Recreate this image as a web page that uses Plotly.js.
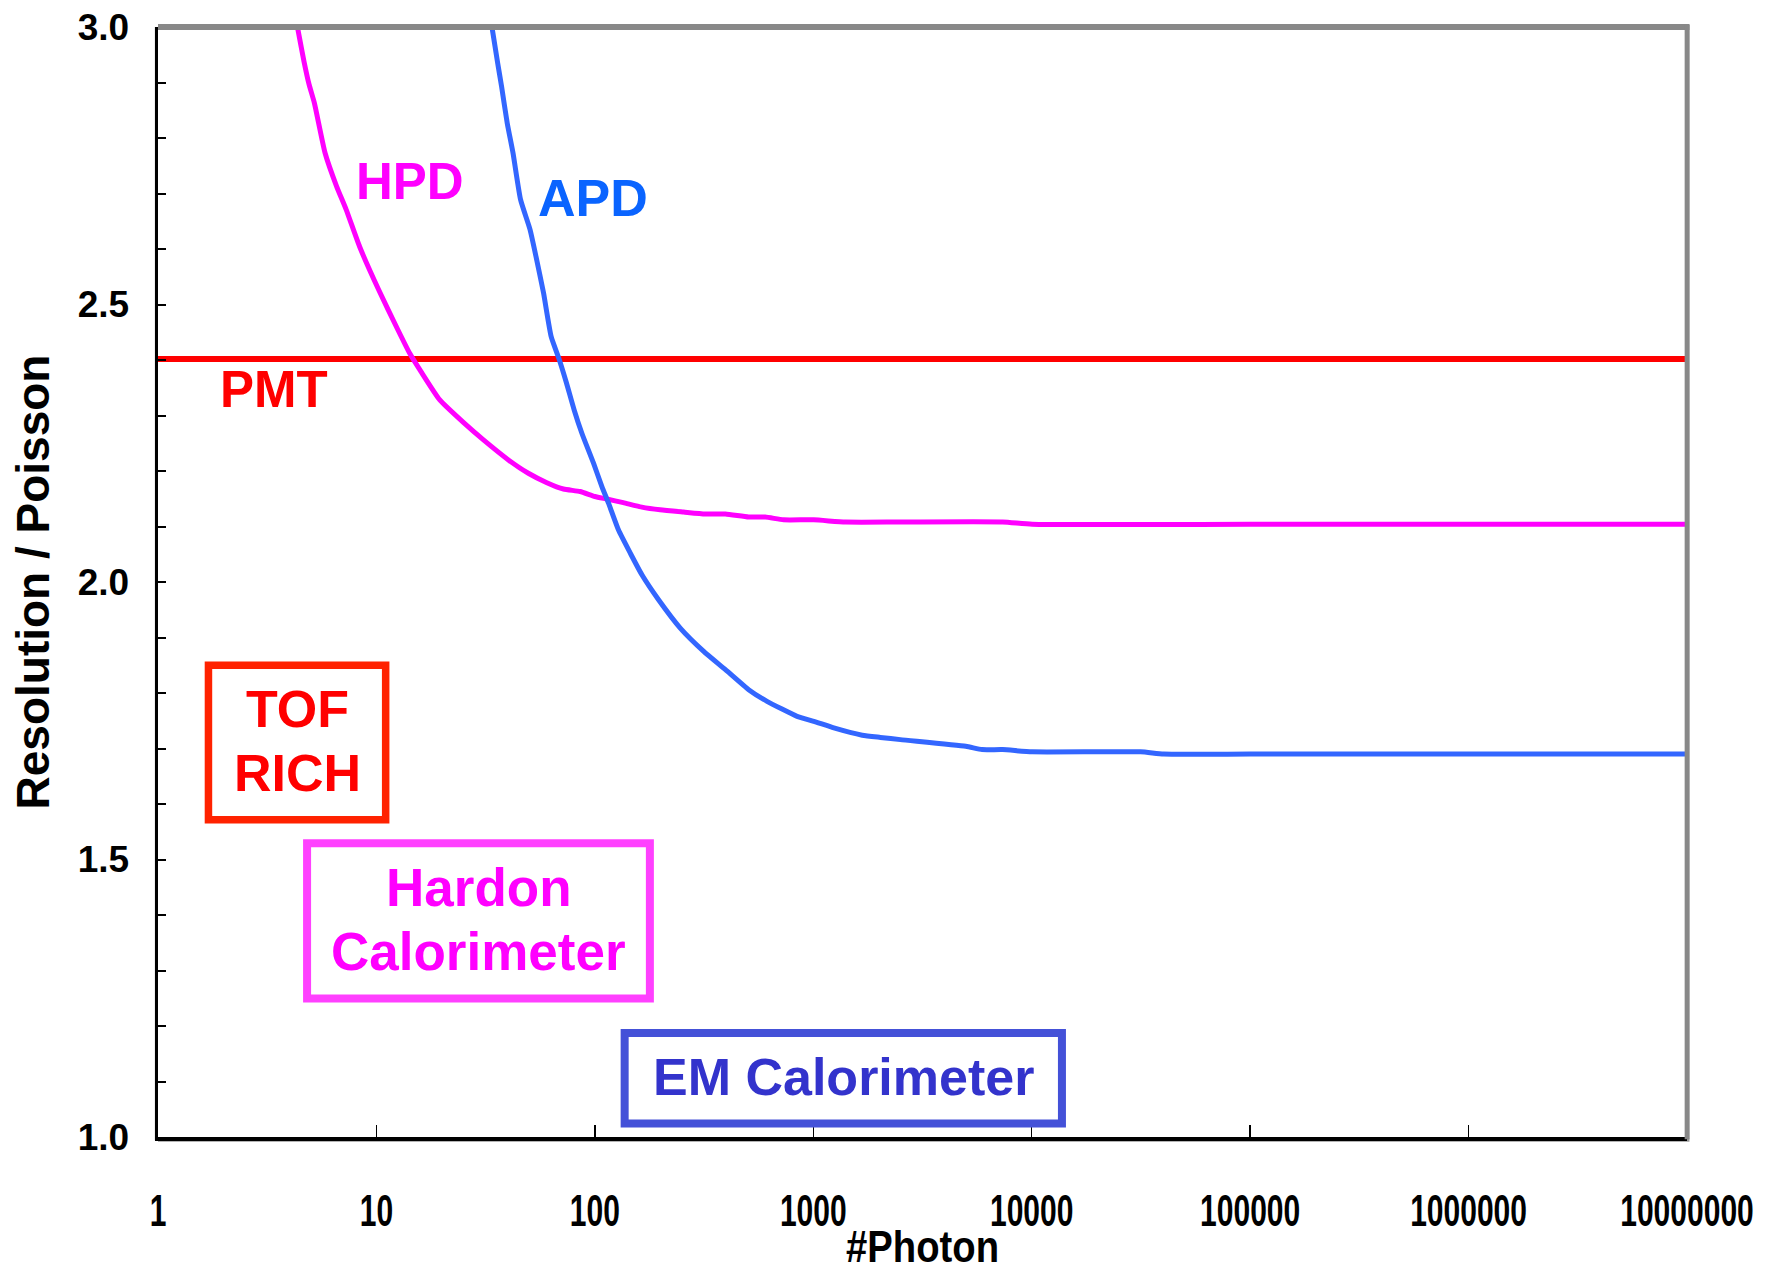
<!DOCTYPE html>
<html>
<head>
<meta charset="utf-8">
<script src="https://cdn.plot.ly/plotly-3.0.1.min.js"></script>
<style>
  html, body { margin: 0; padding: 0; background: #ffffff; }
  #chart { width: 1773px; height: 1264px; }
</style>
</head>
<body>
<div id="chart"></div>
<script>
// ---- Data ----
const xTickVals = [1, 10, 100, 1000, 10000, 100000, 1000000, 10000000];
const xTickText = ["1", "10", "100", "1000", "10000", "100000", "1000000", "10000000"];
const yTickVals = [1.0, 1.5, 2.0, 2.5, 3.0];
const yTickText = ["1.0", "1.5", "2.0", "2.5", "3.0"];

const pmtX = [1, 10000000];
const pmtY = [2.402, 2.402];

const hpdX = [4.35, 4.66, 4.92, 5.20, 5.82, 6.57, 7.27, 8.38, 10.25, 12.55, 14.2, 16.0, 19.5, 25.0, 30.9,
  40.2, 49.6, 60.3, 71.8, 85.6, 100, 113.5, 135, 164, 199, 255, 320, 396, 506, 603, 731, 1004, 1403,
  2506, 7360, 10050, 100000, 1000000, 10000000];
const hpdY = [3.0, 2.938, 2.896, 2.863, 2.773, 2.713, 2.671, 2.604, 2.526, 2.454, 2.412, 2.379, 2.328, 2.2875, 2.256,
  2.220, 2.196, 2.179, 2.1675, 2.163, 2.154, 2.1495, 2.143, 2.135, 2.130, 2.126, 2.1225, 2.1225, 2.117, 2.117, 2.112, 2.112, 2.108,
  2.108, 2.108, 2.104, 2.104, 2.104, 2.104];

const apdX = [33.8, 35.9, 37.4, 39.7, 42.2, 45.7, 50.5, 53.8, 58.2, 63.1, 68.4, 74.2, 80.4, 87.2, 98.6,
  107.7, 115.5, 128.2, 145.3, 164.2, 195.7, 246, 315, 396, 506, 614, 843, 1005, 1242, 1675, 2029, 2506,
  4990, 5930, 7360, 10050, 31500, 40200, 100000, 1000000, 10000000];
const apdY = [3.0, 2.935, 2.893, 2.827, 2.773, 2.689, 2.635, 2.586, 2.521, 2.442, 2.403, 2.358, 2.310, 2.268, 2.214,
  2.172, 2.142, 2.094, 2.052, 2.013, 1.968, 1.917, 1.875, 1.842, 1.806, 1.785, 1.758, 1.749, 1.737, 1.724, 1.720, 1.716,
  1.704, 1.698, 1.698, 1.694, 1.694, 1.690, 1.690, 1.690, 1.690];

const curveLabels = ["PMT", "HPD", "APD"];
const boxLabels = [["TOF", "RICH"], ["Hardon", "Calorimeter"], ["EM Calorimeter"]];

// ---- Styling ----
const boldArial = "Liberation Sans, Arial, Helvetica, sans-serif";

const traces = [
  { x: pmtX, y: pmtY, name: curveLabels[0], type: "scatter", mode: "lines",
    line: { color: "#ff0000", width: 6 } },
  { x: hpdX, y: hpdY, name: curveLabels[1], type: "scatter", mode: "lines",
    line: { color: "#ff00ff", width: 5, shape: "spline", smoothing: 0.5 } },
  { x: apdX, y: apdY, name: curveLabels[2], type: "scatter", mode: "lines",
    line: { color: "#3366ff", width: 5, shape: "spline", smoothing: 0.5 } }
];

function txt(text, x, y, color, size) {
  return { text: text, x: x, y: y, xref: "paper", yref: "paper", xanchor: "center", yanchor: "middle",
    showarrow: false, font: { family: boldArial, size: size, color: color, weight: "bold" } };
}

const annotations = [
  txt(curveLabels[1], 0.1650, 0.8607, "#ff00ff", 51),
  txt(curveLabels[2], 0.2845, 0.8461, "#0a64ff", 52),
  txt(curveLabels[0], 0.0758, 0.6738, "#ff0000", 51),
  txt(boxLabels[0][0], 0.0910, 0.3857, "#ff0000", 52),
  txt(boxLabels[0][1], 0.0910, 0.3280, "#ff0000", 52),
  txt(boxLabels[1][0], 0.2097, 0.2246, "#ff00ff", 53),
  txt(boxLabels[1][1], 0.2097, 0.1675, "#ff00ff", 53),
  txt(boxLabels[2][0], 0.4484, 0.0537, "#3333cc", 52)
];

const shapes = [
  // top and right frame (grey)
  { type: "line", xref: "paper", yref: "paper", x0: 0, x1: 1.0016, y0: 1, y1: 1,
    line: { color: "#888888", width: 6 } },
  { type: "line", xref: "paper", yref: "paper", x0: 1.0001, x1: 1.0001, y0: -0.002, y1: 1.002,
    line: { color: "#888888", width: 5 } },
  // grey shadow under bottom axis and left of left axis
  { type: "line", xref: "paper", yref: "paper", x0: 0, x1: 1.0016, y0: -0.0030, y1: -0.0030,
    line: { color: "#9a9a9a", width: 3 }, layer: "below" },
  { type: "line", xref: "paper", yref: "paper", x0: -0.0014, x1: -0.0014, y0: -0.003, y1: 1.0,
    line: { color: "#8a8a8a", width: 2 }, layer: "below" },
  // annotation boxes
  { type: "rect", xref: "paper", yref: "paper", x0: 0.0330, x1: 0.1489, y0: 0.2857, y1: 0.4249,
    line: { color: "#ff2200", width: 7.5 } },
  { type: "rect", xref: "paper", yref: "paper", x0: 0.0975, x1: 0.3217, y0: 0.1247, y1: 0.2647,
    line: { color: "#ff40ff", width: 8 } },
  { type: "rect", xref: "paper", yref: "paper", x0: 0.3052, x1: 0.5912, y0: 0.0121, y1: 0.0938,
    line: { color: "#4451d8", width: 8 } }
];

const layout = {
  width: 1773, height: 1264,
  margin: { l: 158, r: 86, t: 27, b: 127 },
  paper_bgcolor: "#ffffff", plot_bgcolor: "#ffffff",
  showlegend: false,
  xaxis: {
    type: "log", range: [0, 7],
    tickvals: xTickVals, ticktext: xTickText,
    ticks: "inside", ticklen: 12, tickwidth: 1.5, tickcolor: "#000000",
    ticklabelstandoff: 31,
    ticklabeloverflow: "allow",
    showline: true, linecolor: "#000000", linewidth: 3.5,
    showgrid: false, zeroline: false,
    tickfont: { family: boldArial, size: 45, color: "#000000", weight: "bold" },
    title: { text: "#Photon", standoff: 13,
      font: { family: boldArial, size: 45, color: "#000000", weight: "bold" } }
  },
  yaxis: {
    range: [1, 3],
    tickvals: yTickVals, ticktext: yTickText,
    ticks: "inside", ticklen: 8, tickwidth: 2, tickcolor: "#000000",
    minor: { dtick: 0.1, ticks: "inside", ticklen: 8, tickwidth: 2, tickcolor: "#000000", showgrid: false },
    ticklabelstandoff: 18,
    showline: true, linecolor: "#000000", linewidth: 3.5,
    showgrid: false, zeroline: false,
    tickfont: { family: boldArial, size: 37, color: "#000000", weight: "bold" },
    title: { text: "Resolution / Poisson", standoff: 14,
      font: { family: boldArial, size: 46, color: "#000000", weight: "bold" } }
  },
  annotations: annotations,
  shapes: shapes
};

// The reference uses a strongly condensed face for the x tick labels and the x title;
// compress the rendered glyphs horizontally to that width. The reference's x title
// also sits a little lower, running into the bottom edge of the picture.
function condenseXText(gd) {
  gd.querySelectorAll(".xtick text").forEach(function (t) {
    const n = t.textContent.length;
    t.setAttribute("textLength", (n * 16.7).toFixed(1));
    t.setAttribute("lengthAdjust", "spacingAndGlyphs");
  });
  const xt = gd.querySelector(".xtitle");
  if (xt) {
    xt.setAttribute("textLength", "153");
    xt.setAttribute("lengthAdjust", "spacingAndGlyphs");
    const y0 = parseFloat(xt.getAttribute("y"));
    if (!isNaN(y0)) xt.setAttribute("y", (y0 + 8).toFixed(1));
  }
}

Plotly.newPlot("chart", traces, layout, { staticPlot: true, displayModeBar: false })
  .then(function (gd) { condenseXText(gd); });
</script>
</body>
</html>
